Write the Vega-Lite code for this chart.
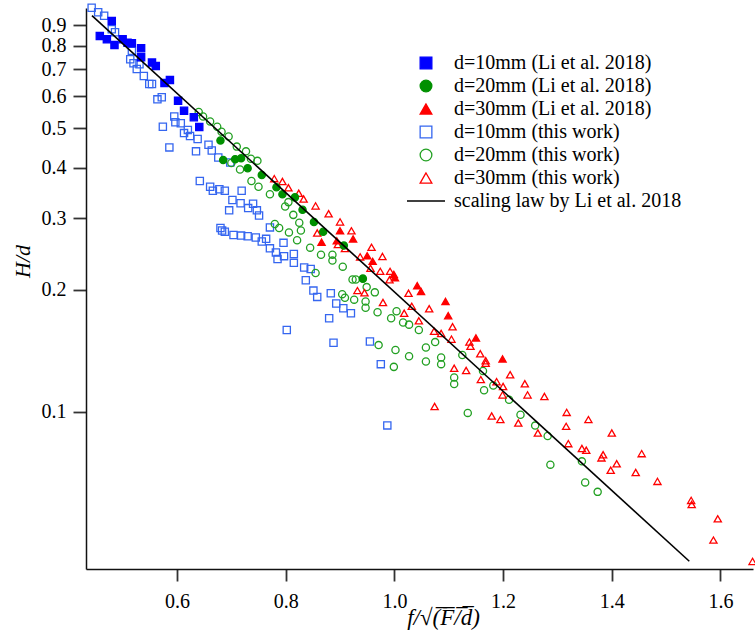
{
  "$schema": "https://vega.github.io/schema/vega-lite/v6.json",
  "autosize": "none",
  "width": 667,
  "height": 561,
  "padding": {"left": 86, "top": 8, "right": 2, "bottom": 67},
  "background": "white",
  "config": {
    "view": {"stroke": null},
    "axis": {"grid": false, "labelFont": "Liberation Serif", "labelFontSize": 20, "labelColor": "black", "titleFont": "Liberation Serif", "titleFontStyle": "italic", "titleFontWeight": "normal", "titleColor": "black", "domainColor": "#111", "domainWidth": 1.5, "tickColor": "#333", "tickWidth": 1.8, "labelFlush": false, "labelOverlap": false},
    "legend": {"orient": "none", "legendX": 330, "legendY": 45, "labelFont": "Liberation Serif", "labelFontSize": 20, "labelColor": "black", "symbolSize": 137, "symbolStrokeWidth": 1.3, "labelOffset": 18, "rowPadding": 3, "padding": 0, "labelLimit": 400}
  },
  "datasets": {
    "law": [{"x": 0.4436, "y": 0.949}, {"x": 1.5426, "y": 0.04274}],
    "points": [
      {"x":0.443,"y":0.993,"series":"d=10mm (this work)"},
      {"x":0.455,"y":0.968,"series":"d=10mm (this work)"},
      {"x":0.466,"y":0.949,"series":"d=10mm (this work)"},
      {"x":0.480,"y":0.879,"series":"d=10mm (this work)"},
      {"x":0.486,"y":0.864,"series":"d=10mm (this work)"},
      {"x":0.517,"y":0.777,"series":"d=10mm (this work)"},
      {"x":0.514,"y":0.741,"series":"d=10mm (this work)"},
      {"x":0.520,"y":0.724,"series":"d=10mm (this work)"},
      {"x":0.531,"y":0.720,"series":"d=10mm (this work)"},
      {"x":0.526,"y":0.701,"series":"d=10mm (this work)"},
      {"x":0.539,"y":0.674,"series":"d=10mm (this work)"},
      {"x":0.549,"y":0.644,"series":"d=10mm (this work)"},
      {"x":0.554,"y":0.644,"series":"d=10mm (this work)"},
      {"x":0.572,"y":0.597,"series":"d=10mm (this work)"},
      {"x":0.564,"y":0.590,"series":"d=10mm (this work)"},
      {"x":0.595,"y":0.535,"series":"d=10mm (this work)"},
      {"x":0.597,"y":0.518,"series":"d=10mm (this work)"},
      {"x":0.607,"y":0.515,"series":"d=10mm (this work)"},
      {"x":0.574,"y":0.505,"series":"d=10mm (this work)"},
      {"x":0.620,"y":0.496,"series":"d=10mm (this work)"},
      {"x":0.613,"y":0.487,"series":"d=10mm (this work)"},
      {"x":0.624,"y":0.479,"series":"d=10mm (this work)"},
      {"x":0.638,"y":0.471,"series":"d=10mm (this work)"},
      {"x":0.586,"y":0.449,"series":"d=10mm (this work)"},
      {"x":0.658,"y":0.456,"series":"d=10mm (this work)"},
      {"x":0.635,"y":0.439,"series":"d=10mm (this work)"},
      {"x":0.664,"y":0.441,"series":"d=10mm (this work)"},
      {"x":0.676,"y":0.424,"series":"d=10mm (this work)"},
      {"x":0.698,"y":0.412,"series":"d=10mm (this work)"},
      {"x":0.642,"y":0.371,"series":"d=10mm (this work)"},
      {"x":0.661,"y":0.359,"series":"d=10mm (this work)"},
      {"x":0.666,"y":0.351,"series":"d=10mm (this work)"},
      {"x":0.678,"y":0.354,"series":"d=10mm (this work)"},
      {"x":0.688,"y":0.351,"series":"d=10mm (this work)"},
      {"x":0.719,"y":0.351,"series":"d=10mm (this work)"},
      {"x":0.702,"y":0.333,"series":"d=10mm (this work)"},
      {"x":0.717,"y":0.327,"series":"d=10mm (this work)"},
      {"x":0.740,"y":0.326,"series":"d=10mm (this work)"},
      {"x":0.731,"y":0.318,"series":"d=10mm (this work)"},
      {"x":0.747,"y":0.314,"series":"d=10mm (this work)"},
      {"x":0.751,"y":0.305,"series":"d=10mm (this work)"},
      {"x":0.696,"y":0.314,"series":"d=10mm (this work)"},
      {"x":0.680,"y":0.284,"series":"d=10mm (this work)"},
      {"x":0.683,"y":0.280,"series":"d=10mm (this work)"},
      {"x":0.688,"y":0.278,"series":"d=10mm (this work)"},
      {"x":0.704,"y":0.273,"series":"d=10mm (this work)"},
      {"x":0.718,"y":0.272,"series":"d=10mm (this work)"},
      {"x":0.730,"y":0.271,"series":"d=10mm (this work)"},
      {"x":0.745,"y":0.269,"series":"d=10mm (this work)"},
      {"x":0.756,"y":0.263,"series":"d=10mm (this work)"},
      {"x":0.764,"y":0.267,"series":"d=10mm (this work)"},
      {"x":0.771,"y":0.285,"series":"d=10mm (this work)"},
      {"x":0.796,"y":0.261,"series":"d=10mm (this work)"},
      {"x":0.771,"y":0.253,"series":"d=10mm (this work)"},
      {"x":0.782,"y":0.247,"series":"d=10mm (this work)"},
      {"x":0.797,"y":0.242,"series":"d=10mm (this work)"},
      {"x":0.785,"y":0.238,"series":"d=10mm (this work)"},
      {"x":0.815,"y":0.245,"series":"d=10mm (this work)"},
      {"x":0.815,"y":0.233,"series":"d=10mm (this work)"},
      {"x":0.834,"y":0.227,"series":"d=10mm (this work)"},
      {"x":0.846,"y":0.225,"series":"d=10mm (this work)"},
      {"x":0.837,"y":0.211,"series":"d=10mm (this work)"},
      {"x":0.851,"y":0.199,"series":"d=10mm (this work)"},
      {"x":0.858,"y":0.192,"series":"d=10mm (this work)"},
      {"x":0.883,"y":0.196,"series":"d=10mm (this work)"},
      {"x":0.893,"y":0.185,"series":"d=10mm (this work)"},
      {"x":0.906,"y":0.180,"series":"d=10mm (this work)"},
      {"x":0.920,"y":0.175,"series":"d=10mm (this work)"},
      {"x":0.880,"y":0.170,"series":"d=10mm (this work)"},
      {"x":0.802,"y":0.159,"series":"d=10mm (this work)"},
      {"x":0.888,"y":0.148,"series":"d=10mm (this work)"},
      {"x":0.955,"y":0.149,"series":"d=10mm (this work)"},
      {"x":0.975,"y":0.131,"series":"d=10mm (this work)"},
      {"x":0.987,"y":0.0925,"series":"d=10mm (this work)"},
      {"x":0.640,"y":0.549,"series":"d=20mm (this work)"},
      {"x":0.648,"y":0.535,"series":"d=20mm (this work)"},
      {"x":0.661,"y":0.520,"series":"d=20mm (this work)"},
      {"x":0.674,"y":0.505,"series":"d=20mm (this work)"},
      {"x":0.682,"y":0.491,"series":"d=20mm (this work)"},
      {"x":0.695,"y":0.478,"series":"d=20mm (this work)"},
      {"x":0.710,"y":0.451,"series":"d=20mm (this work)"},
      {"x":0.727,"y":0.439,"series":"d=20mm (this work)"},
      {"x":0.736,"y":0.421,"series":"d=20mm (this work)"},
      {"x":0.748,"y":0.416,"series":"d=20mm (this work)"},
      {"x":0.700,"y":0.411,"series":"d=20mm (this work)"},
      {"x":0.716,"y":0.396,"series":"d=20mm (this work)"},
      {"x":0.737,"y":0.371,"series":"d=20mm (this work)"},
      {"x":0.750,"y":0.359,"series":"d=20mm (this work)"},
      {"x":0.771,"y":0.344,"series":"d=20mm (this work)"},
      {"x":0.805,"y":0.329,"series":"d=20mm (this work)"},
      {"x":0.799,"y":0.321,"series":"d=20mm (this work)"},
      {"x":0.814,"y":0.306,"series":"d=20mm (this work)"},
      {"x":0.825,"y":0.2925,"series":"d=20mm (this work)"},
      {"x":0.828,"y":0.280,"series":"d=20mm (this work)"},
      {"x":0.780,"y":0.2905,"series":"d=20mm (this work)"},
      {"x":0.788,"y":0.284,"series":"d=20mm (this work)"},
      {"x":0.806,"y":0.277,"series":"d=20mm (this work)"},
      {"x":0.821,"y":0.265,"series":"d=20mm (this work)"},
      {"x":0.845,"y":0.254,"series":"d=20mm (this work)"},
      {"x":0.865,"y":0.244,"series":"d=20mm (this work)"},
      {"x":0.886,"y":0.244,"series":"d=20mm (this work)"},
      {"x":0.886,"y":0.236,"series":"d=20mm (this work)"},
      {"x":0.905,"y":0.228,"series":"d=20mm (this work)"},
      {"x":0.855,"y":0.220,"series":"d=20mm (this work)"},
      {"x":0.923,"y":0.212,"series":"d=20mm (this work)"},
      {"x":0.929,"y":0.212,"series":"d=20mm (this work)"},
      {"x":0.949,"y":0.203,"series":"d=20mm (this work)"},
      {"x":0.904,"y":0.195,"series":"d=20mm (this work)"},
      {"x":0.909,"y":0.191,"series":"d=20mm (this work)"},
      {"x":0.926,"y":0.189,"series":"d=20mm (this work)"},
      {"x":0.947,"y":0.187,"series":"d=20mm (this work)"},
      {"x":0.964,"y":0.197,"series":"d=20mm (this work)"},
      {"x":0.947,"y":0.1805,"series":"d=20mm (this work)"},
      {"x":0.969,"y":0.176,"series":"d=20mm (this work)"},
      {"x":0.994,"y":0.170,"series":"d=20mm (this work)"},
      {"x":1.004,"y":0.177,"series":"d=20mm (this work)"},
      {"x":1.016,"y":0.166,"series":"d=20mm (this work)"},
      {"x":1.027,"y":0.164,"series":"d=20mm (this work)"},
      {"x":1.045,"y":0.159,"series":"d=20mm (this work)"},
      {"x":0.971,"y":0.146,"series":"d=20mm (this work)"},
      {"x":1.002,"y":0.142,"series":"d=20mm (this work)"},
      {"x":1.027,"y":0.137,"series":"d=20mm (this work)"},
      {"x":1.058,"y":0.133,"series":"d=20mm (this work)"},
      {"x":1.058,"y":0.144,"series":"d=20mm (this work)"},
      {"x":1.075,"y":0.1485,"series":"d=20mm (this work)"},
      {"x":1.086,"y":0.136,"series":"d=20mm (this work)"},
      {"x":1.086,"y":0.131,"series":"d=20mm (this work)"},
      {"x":0.999,"y":0.129,"series":"d=20mm (this work)"},
      {"x":1.125,"y":0.138,"series":"d=20mm (this work)"},
      {"x":1.110,"y":0.1215,"series":"d=20mm (this work)"},
      {"x":1.110,"y":0.117,"series":"d=20mm (this work)"},
      {"x":1.165,"y":0.113,"series":"d=20mm (this work)"},
      {"x":1.163,"y":0.126,"series":"d=20mm (this work)"},
      {"x":1.182,"y":0.116,"series":"d=20mm (this work)"},
      {"x":1.211,"y":0.107,"series":"d=20mm (this work)"},
      {"x":1.135,"y":0.0993,"series":"d=20mm (this work)"},
      {"x":1.232,"y":0.0983,"series":"d=20mm (this work)"},
      {"x":1.259,"y":0.0924,"series":"d=20mm (this work)"},
      {"x":1.282,"y":0.0871,"series":"d=20mm (this work)"},
      {"x":1.287,"y":0.0740,"series":"d=20mm (this work)"},
      {"x":1.345,"y":0.0754,"series":"d=20mm (this work)"},
      {"x":1.351,"y":0.0669,"series":"d=20mm (this work)"},
      {"x":1.374,"y":0.0634,"series":"d=20mm (this work)"},
      {"x":0.779,"y":0.376,"series":"d=30mm (this work)"},
      {"x":0.794,"y":0.370,"series":"d=30mm (this work)"},
      {"x":0.805,"y":0.357,"series":"d=30mm (this work)"},
      {"x":0.824,"y":0.346,"series":"d=30mm (this work)"},
      {"x":0.833,"y":0.335,"series":"d=30mm (this work)"},
      {"x":0.855,"y":0.322,"series":"d=30mm (this work)"},
      {"x":0.879,"y":0.308,"series":"d=30mm (this work)"},
      {"x":0.900,"y":0.294,"series":"d=30mm (this work)"},
      {"x":0.921,"y":0.2795,"series":"d=30mm (this work)"},
      {"x":0.858,"y":0.276,"series":"d=30mm (this work)"},
      {"x":0.896,"y":0.2586,"series":"d=30mm (this work)"},
      {"x":0.909,"y":0.2527,"series":"d=30mm (this work)"},
      {"x":0.958,"y":0.2545,"series":"d=30mm (this work)"},
      {"x":0.978,"y":0.2415,"series":"d=30mm (this work)"},
      {"x":0.937,"y":0.241,"series":"d=30mm (this work)"},
      {"x":0.956,"y":0.226,"series":"d=30mm (this work)"},
      {"x":0.974,"y":0.222,"series":"d=30mm (this work)"},
      {"x":0.992,"y":0.222,"series":"d=30mm (this work)"},
      {"x":0.991,"y":0.2116,"series":"d=30mm (this work)"},
      {"x":1.026,"y":0.196,"series":"d=30mm (this work)"},
      {"x":0.932,"y":0.199,"series":"d=30mm (this work)"},
      {"x":0.945,"y":0.1966,"series":"d=30mm (this work)"},
      {"x":0.979,"y":0.186,"series":"d=30mm (this work)"},
      {"x":1.064,"y":0.1795,"series":"d=30mm (this work)"},
      {"x":1.018,"y":0.175,"series":"d=30mm (this work)"},
      {"x":1.032,"y":0.182,"series":"d=30mm (this work)"},
      {"x":1.045,"y":0.1676,"series":"d=30mm (this work)"},
      {"x":1.073,"y":0.158,"series":"d=30mm (this work)"},
      {"x":1.086,"y":0.156,"series":"d=30mm (this work)"},
      {"x":1.107,"y":0.162,"series":"d=30mm (this work)"},
      {"x":1.105,"y":0.151,"series":"d=30mm (this work)"},
      {"x":1.138,"y":0.1485,"series":"d=30mm (this work)"},
      {"x":1.140,"y":0.145,"series":"d=30mm (this work)"},
      {"x":1.158,"y":0.139,"series":"d=30mm (this work)"},
      {"x":1.168,"y":0.1336,"series":"d=30mm (this work)"},
      {"x":1.168,"y":0.1317,"series":"d=30mm (this work)"},
      {"x":1.110,"y":0.128,"series":"d=30mm (this work)"},
      {"x":1.132,"y":0.1264,"series":"d=30mm (this work)"},
      {"x":1.159,"y":0.120,"series":"d=30mm (this work)"},
      {"x":1.188,"y":0.1186,"series":"d=30mm (this work)"},
      {"x":1.200,"y":0.1154,"series":"d=30mm (this work)"},
      {"x":1.213,"y":0.1234,"series":"d=30mm (this work)"},
      {"x":1.240,"y":0.1172,"series":"d=30mm (this work)"},
      {"x":1.245,"y":0.110,"series":"d=30mm (this work)"},
      {"x":1.276,"y":0.109,"series":"d=30mm (this work)"},
      {"x":1.199,"y":0.110,"series":"d=30mm (this work)"},
      {"x":1.074,"y":0.103,"series":"d=30mm (this work)"},
      {"x":1.179,"y":0.0976,"series":"d=30mm (this work)"},
      {"x":1.195,"y":0.0956,"series":"d=30mm (this work)"},
      {"x":1.228,"y":0.0938,"series":"d=30mm (this work)"},
      {"x":1.264,"y":0.0886,"series":"d=30mm (this work)"},
      {"x":1.317,"y":0.0996,"series":"d=30mm (this work)"},
      {"x":1.357,"y":0.0956,"series":"d=30mm (this work)"},
      {"x":1.316,"y":0.0920,"series":"d=30mm (this work)"},
      {"x":1.320,"y":0.0834,"series":"d=30mm (this work)"},
      {"x":1.345,"y":0.0811,"series":"d=30mm (this work)"},
      {"x":1.353,"y":0.0803,"series":"d=30mm (this work)"},
      {"x":1.400,"y":0.0886,"series":"d=30mm (this work)"},
      {"x":1.384,"y":0.0783,"series":"d=30mm (this work)"},
      {"x":1.381,"y":0.0769,"series":"d=30mm (this work)"},
      {"x":1.409,"y":0.0744,"series":"d=30mm (this work)"},
      {"x":1.398,"y":0.0717,"series":"d=30mm (this work)"},
      {"x":1.455,"y":0.0788,"series":"d=30mm (this work)"},
      {"x":1.444,"y":0.0708,"series":"d=30mm (this work)"},
      {"x":1.484,"y":0.0673,"series":"d=30mm (this work)"},
      {"x":1.546,"y":0.0604,"series":"d=30mm (this work)"},
      {"x":1.547,"y":0.0590,"series":"d=30mm (this work)"},
      {"x":1.595,"y":0.0544,"series":"d=30mm (this work)"},
      {"x":1.587,"y":0.0482,"series":"d=30mm (this work)"},
      {"x":1.659,"y":0.0427,"series":"d=30mm (this work)"},
      {"x":0.458,"y":0.846,"series":"d=10mm (Li et al. 2018)"},
      {"x":0.471,"y":0.830,"series":"d=10mm (Li et al. 2018)"},
      {"x":0.485,"y":0.804,"series":"d=10mm (Li et al. 2018)"},
      {"x":0.480,"y":0.921,"series":"d=10mm (Li et al. 2018)"},
      {"x":0.500,"y":0.830,"series":"d=10mm (Li et al. 2018)"},
      {"x":0.509,"y":0.814,"series":"d=10mm (Li et al. 2018)"},
      {"x":0.517,"y":0.811,"series":"d=10mm (Li et al. 2018)"},
      {"x":0.534,"y":0.789,"series":"d=10mm (Li et al. 2018)"},
      {"x":0.534,"y":0.749,"series":"d=10mm (Li et al. 2018)"},
      {"x":0.554,"y":0.727,"series":"d=10mm (Li et al. 2018)"},
      {"x":0.561,"y":0.713,"series":"d=10mm (Li et al. 2018)"},
      {"x":0.587,"y":0.659,"series":"d=10mm (Li et al. 2018)"},
      {"x":0.577,"y":0.647,"series":"d=10mm (Li et al. 2018)"},
      {"x":0.602,"y":0.585,"series":"d=10mm (Li et al. 2018)"},
      {"x":0.613,"y":0.553,"series":"d=10mm (Li et al. 2018)"},
      {"x":0.631,"y":0.533,"series":"d=10mm (Li et al. 2018)"},
      {"x":0.641,"y":0.504,"series":"d=10mm (Li et al. 2018)"},
      {"x":0.680,"y":0.467,"series":"d=20mm (Li et al. 2018)"},
      {"x":0.685,"y":0.418,"series":"d=20mm (Li et al. 2018)"},
      {"x":0.707,"y":0.420,"series":"d=20mm (Li et al. 2018)"},
      {"x":0.718,"y":0.422,"series":"d=20mm (Li et al. 2018)"},
      {"x":0.730,"y":0.399,"series":"d=20mm (Li et al. 2018)"},
      {"x":0.756,"y":0.384,"series":"d=20mm (Li et al. 2018)"},
      {"x":0.783,"y":0.358,"series":"d=20mm (Li et al. 2018)"},
      {"x":0.794,"y":0.344,"series":"d=20mm (Li et al. 2018)"},
      {"x":0.817,"y":0.338,"series":"d=20mm (Li et al. 2018)"},
      {"x":0.831,"y":0.315,"series":"d=20mm (Li et al. 2018)"},
      {"x":0.852,"y":0.294,"series":"d=20mm (Li et al. 2018)"},
      {"x":0.869,"y":0.278,"series":"d=20mm (Li et al. 2018)"},
      {"x":0.907,"y":0.257,"series":"d=20mm (Li et al. 2018)"},
      {"x":0.942,"y":0.213,"series":"d=20mm (Li et al. 2018)"},
      {"x":0.900,"y":0.2795,"series":"d=30mm (Li et al. 2018)"},
      {"x":0.924,"y":0.267,"series":"d=30mm (Li et al. 2018)"},
      {"x":0.866,"y":0.262,"series":"d=30mm (Li et al. 2018)"},
      {"x":0.894,"y":0.264,"series":"d=30mm (Li et al. 2018)"},
      {"x":0.950,"y":0.2425,"series":"d=30mm (Li et al. 2018)"},
      {"x":0.960,"y":0.235,"series":"d=30mm (Li et al. 2018)"},
      {"x":0.999,"y":0.218,"series":"d=30mm (Li et al. 2018)"},
      {"x":1.001,"y":0.214,"series":"d=30mm (Li et al. 2018)"},
      {"x":1.042,"y":0.2045,"series":"d=30mm (Li et al. 2018)"},
      {"x":1.049,"y":0.198,"series":"d=30mm (Li et al. 2018)"},
      {"x":1.094,"y":0.187,"series":"d=30mm (Li et al. 2018)"},
      {"x":1.099,"y":0.1725,"series":"d=30mm (Li et al. 2018)"},
      {"x":1.150,"y":0.152,"series":"d=30mm (Li et al. 2018)"},
      {"x":1.199,"y":0.135,"series":"d=30mm (Li et al. 2018)"}
    ]
  },
  "layer": [
    {
      "data": {"name": "points"},
      "mark": {"type": "point", "size": 52, "strokeWidth": 1.3, "opacity": 1},
      "encoding": {
        "x": {"field": "x", "type": "quantitative", "scale": {"domain": [0.4326, 1.6598], "nice": false, "zero": false},
          "axis": {"values": [0.6, 0.8, 1.0, 1.2, 1.4, 1.6], "format": ".1f", "tickSize": 12, "labelPadding": 10, "labelFont": "Liberation Serif", "labelFontSize": 20, "title": "f/\u221a(\u0305F\u0305/\u0305d\u0305)", "titleFont": "Liberation Serif", "titleFontSize": 23, "titleX": 357, "titleY": 55, "titleBaseline": "alphabetic", "titleAlign": "center", "titleAnchor": null}},
        "y": {"field": "y", "type": "quantitative", "scale": {"type": "log", "domain": [0.0409, 0.9915], "nice": false, "zero": false},
          "axis": {"values": [0.1, 0.2, 0.3, 0.4, 0.5, 0.6, 0.7, 0.8, 0.9], "format": ".1f", "tickSize": 13, "labelPadding": 7, "labelFont": "Liberation Serif", "labelFontSize": 20, "title": "H/d", "titleFont": "Liberation Serif", "titleFontSize": 22, "titleX": -64, "titleY": 253, "titleAngle": 270, "titleBaseline": "middle", "titleAlign": "center", "titleAnchor": null}},
        "shape": {"field": "series", "type": "nominal",
          "scale": {"domain": ["d=10mm (Li et al. 2018)", "d=20mm (Li et al. 2018)", "d=30mm (Li et al. 2018)", "d=10mm (this work)", "d=20mm (this work)", "d=30mm (this work)", "scaling law by Li et al. 2018"],
            "range": ["square", "circle", "triangle-up", "square", "circle", "triangle-up", "M-3.25,0H3.25"]},
          "legend": {"title": null}},
        "fill": {"field": "series", "type": "nominal",
          "scale": {"domain": ["d=10mm (Li et al. 2018)", "d=20mm (Li et al. 2018)", "d=30mm (Li et al. 2018)", "d=10mm (this work)", "d=20mm (this work)", "d=30mm (this work)", "scaling law by Li et al. 2018"],
            "range": ["#0000ff", "#009000", "#ff0000", "transparent", "transparent", "transparent", "transparent"]},
          "legend": {"title": null}},
        "stroke": {"field": "series", "type": "nominal",
          "scale": {"domain": ["d=10mm (Li et al. 2018)", "d=20mm (Li et al. 2018)", "d=30mm (Li et al. 2018)", "d=10mm (this work)", "d=20mm (this work)", "d=30mm (this work)", "scaling law by Li et al. 2018"],
            "range": ["#0000ff", "#009000", "#ff0000", "#3566f0", "#22a022", "#ff0000", "#000000"]},
          "legend": {"title": null}}
      }
    },
    {
      "data": {"name": "law"},
      "mark": {"type": "line", "color": "black", "strokeWidth": 1.6},
      "encoding": {
        "x": {"field": "x", "type": "quantitative"},
        "y": {"field": "y", "type": "quantitative"}
      }
    }
  ]
}
